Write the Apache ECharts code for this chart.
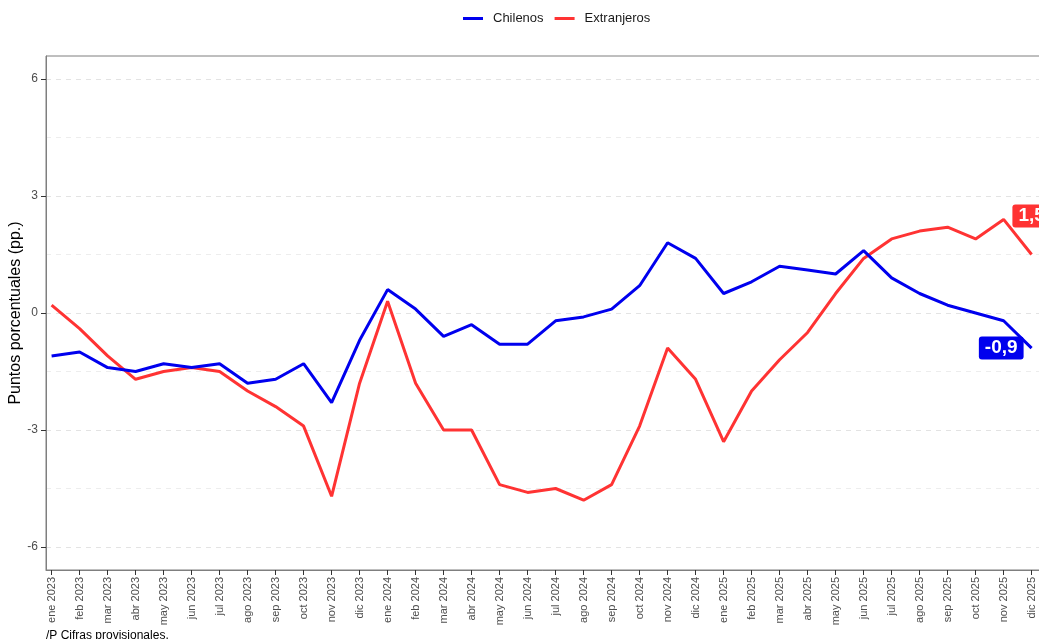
<!DOCTYPE html>
<html>
<head>
<meta charset="utf-8">
<script src="https://cdn.jsdelivr.net/npm/echarts@6/dist/echarts.min.js"></script>
<style>
html,body{margin:0;padding:0;background:#fff;}
#chart{width:1039px;height:639px;}
</style>
</head>
<body>
<div id="chart"></div>
<script>
const categories = ["ene 2023","feb 2023","mar 2023","abr 2023","may 2023","jun 2023","jul 2023","ago 2023","sep 2023","oct 2023","nov 2023","dic 2023",
  "ene 2024","feb 2024","mar 2024","abr 2024","may 2024","jun 2024","jul 2024","ago 2024","sep 2024","oct 2024","nov 2024","dic 2024",
  "ene 2025","feb 2025","mar 2025","abr 2025","may 2025","jun 2025","jul 2025","ago 2025","sep 2025","oct 2025","nov 2025","dic 2025"];
const chilenos = [-1.1,-1.0,-1.4,-1.5,-1.3,-1.4,-1.3,-1.8,-1.7,-1.3,-2.3,-0.7,
  0.6,0.1,-0.6,-0.3,-0.8,-0.8,-0.2,-0.1,0.1,0.7,1.8,1.4,
  0.5,0.8,1.2,1.1,1.0,1.6,0.9,0.5,0.2,0.0,-0.2,-0.9];
const extranjeros = [0.2,-0.4,-1.1,-1.7,-1.5,-1.4,-1.5,-2.0,-2.4,-2.9,-4.7,-1.8,
  0.3,-1.8,-3.0,-3.0,-4.4,-4.6,-4.5,-4.8,-4.4,-2.9,-0.9,-1.7,
  -3.3,-2.0,-1.2,-0.5,0.5,1.4,1.9,2.1,2.2,1.9,2.4,1.5];
const yTicks = [-6,-3,0,3,6];
const yMinorTicks = [-4.5,-1.5,1.5,4.5];
const footnote = "/P Cifras provisionales.";

const BLUE = '#0000ee', RED = '#ff3333';
const xIdx = categories.map((_, i) => i);
const fmt = v => String(v).replace('.', ',');

function buildData(vals, color, pos, dist) {
  return vals.map((v, i) => {
    const item = { value: [i, v] };
    if (i === vals.length - 1) {
      item.symbol = 'circle';
      item.symbolSize = 0;
      item.label = {
        show: true, position: pos, distance: dist,
        formatter: fmt(v),
        backgroundColor: color, color: '#fff', fontWeight: 'bold',
        fontSize: 19, lineHeight: 19, padding: [2, 6, 2, 6], borderRadius: 3,
        fontFamily: 'Liberation Sans, Arial, sans-serif'
      };
    }
    return item;
  });
}

const gridLines = yTicks.map(v => ({ yAxis: v, lineStyle: { color: '#e3e3e3' } }))
  .concat(yMinorTicks.map(v => ({ yAxis: v, lineStyle: { color: '#ededed' } })));

const chart = echarts.init(document.getElementById('chart'), null, { renderer: 'canvas' });
chart.setOption({
  animation: false,
  textStyle: { fontFamily: 'Liberation Sans, Arial, sans-serif' },
  legend: {
    data: ['Chilenos', 'Extranjeros'],
    top: 12, left: 463, padding: 0,
    icon: 'rect', itemWidth: 20, itemHeight: 3, itemGap: 11,
    textStyle: { fontSize: 13, color: '#1a1a1a', padding: [0, 0, 0, 5] }
  },
  grid: {
    left: 46, top: 56, bottom: 69, right: -20.6,
    outerBoundsMode: 'none', containLabel: false,
    show: true, borderColor: '#7f7f7f', borderWidth: 1
  },
  xAxis: {
    type: 'value', min: -0.2, max: 36,
    splitLine: { show: false },
    axisLine: { show: true, onZero: false, lineStyle: { color: '#7f7f7f' } },
    axisTick: { show: true, length: 5, customValues: xIdx, lineStyle: { color: '#333' } },
    axisLabel: {
      customValues: xIdx, rotate: 90, fontSize: 11, color: '#4d4d4d', margin: 7,
      formatter: v => categories[Math.round(v)] || ''
    }
  },
  yAxis: {
    type: 'value', min: -6.59, max: 6.59,
    name: 'Puntos porcentuales (pp.)', nameLocation: 'middle', nameGap: 22,
    nameMoveOverlap: false,
    nameTextStyle: { fontSize: 16, color: '#000' },
    splitLine: { show: false },
    axisLine: { show: true, onZero: false, lineStyle: { color: '#7f7f7f' } },
    axisTick: { show: true, length: 5, customValues: yTicks, lineStyle: { color: '#333' } },
    axisLabel: { customValues: yTicks, fontSize: 12, color: '#4d4d4d', margin: 8 }
  },
  graphic: [{
    type: 'text', left: 46, top: 630,
    style: { text: footnote, fontSize: 12, fill: '#000', fontFamily: 'Liberation Sans, Arial, sans-serif' }
  }],
  series: [
    {
      name: 'grid', type: 'line', z: 1, silent: true, symbol: 'none',
      data: [[0, 0]], lineStyle: { opacity: 0 },
      markLine: {
        silent: true, symbol: 'none', label: { show: false }, z: 0,
        lineStyle: { type: [5, 5], width: 1 },
        data: gridLines
      }
    },
    {
      name: 'Chilenos', type: 'line', z: 3, symbol: 'none', color: BLUE,
      lineStyle: { width: 3, color: BLUE },
      data: buildData(chilenos, BLUE, 'left', 8)
    },
    {
      name: 'Extranjeros', type: 'line', z: 2, symbol: 'none', color: RED,
      lineStyle: { width: 3, color: RED },
      data: buildData(extranjeros, RED, 'top', 27)
    }
  ]
});
</script>
</body>
</html>
